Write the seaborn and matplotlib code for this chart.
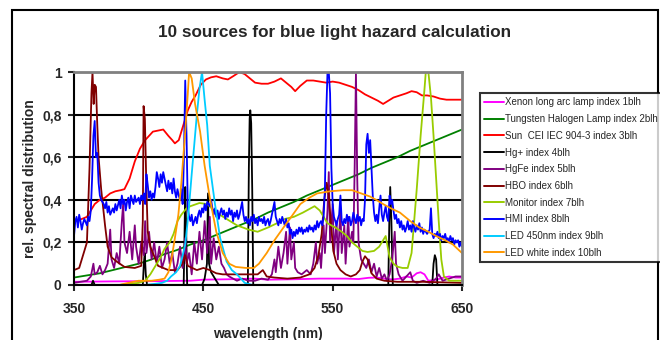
import pandas as pd
import seaborn as sns
import matplotlib.pyplot as plt
from matplotlib.patches import Rectangle

sns.set_style("white")
plt.rcParams['font.family'] = ['Liberation Sans', 'DejaVu Sans']

names = ['Xenon long arc lamp index 1blh', 'Tungsten Halogen Lamp index 2blh',
         'Sun  CEI IEC 904-3 index 3blh', 'Hg+ index 4blh', 'HgFe index 5blh',
         'HBO index 6blh', 'Monitor index 7blh', 'HMI index 8blh',
         'LED 450nm index 9blh', 'LED white index 10blh']
colors = ['#FF00FF', '#008000', '#FF0000', '#000000', '#800080',
          '#800000', '#99CC00', '#0000FF', '#00CCFF', '#FF9900']

xticks = [350, 450, 550, 650]
yticks = [0, 0.2, 0.4, 0.6, 0.8, 1]
ytick_labels = ['0', '0,2', '0,4', '0,6', '0,8', '1']

# (wavelength nm, relative value)
xenon = [(350, .015), (380, .017), (410, .018), (440, .02), (450, .025), (470, .027),
         (490, .03), (500, .025), (520, .027), (540, .03), (560, .03), (570, .028),
         (578, .034), (584, .035), (590, .03), (596, .026), (602, .03), (607, .04),
         (611, .035), (615, .055), (618, .06), (621, .05), (624, .02), (630, .025),
         (636, .035), (640, .04), (645, .035), (650, .035)]

tungsten = [(350, .035), (360, .045), (370, .055), (380, .07), (390, .085), (400, .10),
            (410, .12), (420, .145), (430, .165), (440, .19), (450, .21), (460, .235),
            (470, .26), (480, .285), (490, .31), (500, .34), (510, .365), (520, .39),
            (530, .42), (540, .445), (550, .47), (560, .495), (570, .52), (580, .55),
            (590, .575), (600, .60), (610, .63), (620, .655), (630, .68), (640, .705),
            (650, .73)]

sun = [(350, .30), (356, .31), (360, .32), (366, .38), (370, .40), (374, .41), (378, .43),
       (382, .44), (386, .445), (389, .45), (393, .50), (397, .58), (401, .64), (405, .68),
       (411, .72), (415, .725), (419, .73), (423, .70), (426, .68), (428, .665), (431, .68),
       (434, .74), (438, .82), (441, .86), (444, .89), (448, .94), (452, .965), (456, .975),
       (460, .98), (465, .97), (469, .965), (473, .98), (478, 1.0), (482, .99), (486, .97),
       (490, .95), (495, .945), (500, .945), (505, .955), (510, .97), (514, .95), (518, .93),
       (521, .91), (525, .935), (530, .96), (535, .96), (540, .955), (545, .95), (550, .955),
       (555, .95), (560, .94), (565, .93), (570, .915), (575, .895), (580, .88), (585, .865),
       (589, .85), (593, .865), (597, .88), (602, .89), (607, .90), (611, .91), (615, .905),
       (619, .89), (623, .89), (628, .885), (633, .875), (638, .87), (644, .87), (650, .87)]

hg = [(350, 0), (363.5, 0), (364.7, .02), (366, 0), (403.2, 0), (404, .1), (404.7, .15),
      (405.5, .05), (406.5, 0), (434.8, 0), (435.5, .25), (436, .46), (436.6, .3), (437.5, 0),
      (449, 0), (451, .03), (452.8, .1), (453.6, .43), (454.4, .1), (456, .06), (459, .03),
      (462, 0), (484.4, 0), (485.2, .55), (485.8, .78), (486.3, .82), (487, .76), (487.8, .45),
      (488.6, 0), (593, 0), (593.8, .3), (594.5, .46), (595.4, .3), (596.5, 0), (627, 0),
      (628, .1), (629, .14), (630, .12), (631, 0), (650, 0)]

hgfe = [(350, .01), (355, .015), (360, .02), (363, .04), (365, .1), (366, .05), (368, .06),
        (370, .09), (372, .05), (374, .07), (376, .1), (378, .26), (379, .12), (381, .08),
        (383, .15), (385, .1), (387, .3), (388, .38), (389, .2), (391, .15), (393, .25),
        (395, .12), (397, .28), (398, .18), (400, .1), (402, .2), (404, .14), (405, .3),
        (406, .15), (408, .25), (410, .12), (412, .2), (414, .1), (416, .18), (418, .08),
        (420, .12), (422, .2), (424, .1), (426, .15), (428, .06), (430, .1), (432, .18),
        (434, .08), (436, .22), (437, .1), (439, .15), (441, .05), (443, .2), (445, .1),
        (447, .25), (449, .12), (451, .3), (453, .15), (455, .32), (456, .1), (458, .22),
        (460, .12), (462, .18), (464, .1), (466, .08), (468, .05), (470, .04), (473, .03),
        (476, .02), (480, .03), (485, .02), (490, .02), (495, .03), (500, .025), (503, .05),
        (505, .12), (506, .06), (508, .18), (510, .08), (512, .15), (514, .25), (515, .1),
        (517, .27), (518, .12), (520, .2), (521, .08), (523, .06), (526, .05), (530, .07),
        (533, .05), (535, .1), (537, .2), (538, .1), (540, .15), (541, .08), (543, .28),
        (544, .15), (546, .35), (547, .53), (548, .2), (550, .38), (551, .15), (553, .3),
        (554, .12), (556, .35), (557, .15), (559, .28), (560, .1), (562, .32), (563, .18),
        (565, .25), (566, .2), (567, .55), (568, 1.0), (569, .5), (570, .2), (572, .12),
        (574, .1), (576, .08), (578, .12), (580, .06), (582, .1), (584, .04), (586, .08),
        (588, .03), (590, .05), (592, .02), (594, .05), (596, .12), (598, .25), (599, .1),
        (601, .05), (604, .02), (607, .04), (610, .06), (612, .02), (615, .01), (620, .02),
        (625, .01), (630, .03), (632, .05), (635, .02), (640, .03), (645, .04), (650, .04)]

hbo = [(350, .07), (354, .08), (357, .14), (360, .2), (362, .55), (363.5, .9), (364.3, 1.0),
       (365.2, .85), (366, .94), (367, .93), (368, .75), (369, .6), (371, .45), (374, .28),
       (376, .18), (379, .13), (383, .11), (389, .085), (397, .08), (402, .09), (403.2, .3),
       (403.8, .84), (404.8, .78), (406, .45), (407, .25), (409, .18), (411, .15), (415, .09),
       (423, .07), (430, .07), (434, .1), (436, .14), (438, .09), (445, .07), (450, .08),
       (455, .07), (460, .055), (465, .05), (475, .05), (485, .05), (492, .05), (496, .07),
       (499, .04), (505, .035), (515, .03), (525, .035), (532, .05), (536, .08), (539, .14),
       (541.5, .24), (543.5, .4), (545.4, .48), (547, .42), (548.5, .3), (550.5, .16),
       (553, .1), (556, .07), (560, .05), (564, .04), (568, .05), (571, .07), (573, .11),
       (575, .135), (577, .12), (580, .055), (584, .03), (590, .02), (600, .015),
       (620, .015), (650, .01)]

monitor = [(350, 0), (385, 0), (392, .005), (400, .01), (405, .02), (409, .05), (413, .09),
           (417, .13), (420, .17), (424, .2), (427, .24), (430, .3), (433, .33), (437, .36),
           (440, .37), (447, .385), (453, .38), (460, .34), (468, .31), (476, .28), (485, .26),
           (492, .25), (500, .27), (507, .29), (513, .31), (520, .32), (527, .34), (533, .36),
           (536, .37), (540, .35), (543, .32), (546, .29), (552, .27), (557, .25), (561, .23),
           (565, .2), (569, .18), (573, .16), (577, .155), (582, .16), (586, .18), (588, .2),
           (591, .23), (594, .13), (597, .1), (600, .086), (604, .08), (608, .08), (611, .15),
           (613, .3), (615, .45), (618, .7), (621, .92), (622, 1.0), (624, 1.0), (626, .88),
           (628, .7), (630, .5), (632, .3), (634, .12), (636, .04), (640, .02), (650, .02)]

hmi = [(350, .23), (351, .3), (352, .32), (353, .27), (354, .33), (355, .3), (356, .26),
       (357, .29), (358, .31), (360, .28), (361, .32), (362, .3), (363, .35), (364, .5),
       (365, .7), (366, .77), (367, .6), (368, .62), (369, .48), (370, .42), (371, .4),
       (373, .38), (374, .36), (375, .39), (376, .34), (377, .37), (378, .33), (380, .36),
       (381, .34), (382, .38), (383, .35), (385, .4), (386, .36), (387, .42), (388, .38),
       (389, .4), (390, .35), (391, .39), (392, .41), (393, .36), (394, .42), (396, .38),
       (397, .42), (398, .39), (400, .41), (401, .38), (402, .42), (403, .4), (404, .43),
       (405, .38), (406, .52), (407, .47), (408, .41), (409, .44), (410, .4), (411, .43),
       (412, .41), (413, .46), (414, .53), (415, .5), (416, .46), (417, .52), (418, .48),
       (419, .53), (420, .5), (421, .47), (422, .44), (423, .49), (424, .45), (425, .48),
       (426, .43), (427, .5), (428, .44), (429, .41), (430, .45), (431, .42), (432, .4),
       (433, .45), (434, .38), (435, .6), (436, .96), (437, .7), (438, .36), (439, .32),
       (440, .3), (441, .33), (442, .28), (443, .3), (444, .32), (445, .29), (446, .33),
       (447, .35), (448, .32), (449, .36), (450, .34), (451, .38), (452, .35), (453, .39),
       (455, .37), (456, .4), (457, .36), (458, .33), (459, .36), (460, .32), (461, .35),
       (462, .31), (463, .34), (464, .36), (465, .33), (466, .35), (467, .31), (468, .34),
       (469, .32), (470, .36), (471, .33), (472, .35), (473, .3), (474, .34), (475, .32),
       (476, .35), (477, .31), (478, .33), (479, .36), (480, .39), (481, .33), (482, .3),
       (483, .32), (484, .29), (485, .31), (486, .28), (487, .32), (488, .3), (489, .33),
       (490, .29), (491, .31), (492, .28), (493, .32), (494, .3), (495, .31), (496, .29),
       (497, .32), (498, .28), (499, .3), (500, .31), (501, .28), (502, .3), (503, .33),
       (504, .36), (505, .39), (506, .32), (507, .3), (508, .28), (509, .31), (510, .29),
       (511, .32), (512, .3), (513, .28), (514, .31), (515, .27), (516, .29), (517, .24),
       (518, .26), (519, .22), (520, .25), (521, .23), (522, .26), (523, .24), (524, .27),
       (525, .25), (526, .27), (527, .24), (528, .26), (529, .25), (530, .27), (531, .25),
       (532, .28), (533, .26), (534, .27), (535, .25), (536, .28), (537, .26), (538, .3),
       (539, .27), (540, .29), (541, .3), (542, .28), (543, .32), (544, .45), (545, .8),
       (546, 1.0), (547, 1.0), (548, .9), (549, .55), (550, .38), (551, .32), (552, .3),
       (553, .28), (554, .31), (555, .33), (556, .42), (557, .3), (558, .28), (559, .31),
       (560, .29), (561, .33), (562, .3), (563, .32), (564, .28), (565, .3), (566, .34),
       (567, .31), (568, .29), (569, .33), (570, .3), (571, .32), (572, .28), (573, .31),
       (574, .3), (575, .4), (576, .66), (577, .71), (578, .62), (579, .68), (580, .55),
       (581, .42), (582, .34), (583, .3), (584, .33), (585, .29), (586, .36), (587, .42),
       (588, .33), (589, .3), (590, .34), (591, .37), (592, .32), (593, .3), (594, .42),
       (595, .38), (596, .4), (597, .35), (598, .31), (599, .33), (600, .29), (601, .31),
       (602, .27), (603, .3), (604, .26), (605, .28), (606, .25), (607, .27), (608, .3),
       (609, .26), (610, .28), (611, .25), (612, .3), (613, .27), (614, .25), (615, .28),
       (616, .26), (617, .29), (618, .25), (619, .27), (620, .24), (621, .26), (622, .25),
       (623, .24), (624, .25), (625, .26), (626, .36), (627, .24), (628, .22), (629, .24),
       (630, .23), (631, .25), (632, .22), (633, .24), (634, .21), (635, .23), (636, .22),
       (637, .24), (638, .21), (639, .22), (640, .2), (641, .23), (642, .21), (643, .22),
       (644, .19), (645, .21), (646, .2), (647, .21), (648, .18), (649, .2), (650, .18)]

led450 = [(350, 0), (405, 0), (412, .005), (418, .01), (422, .02), (425, .04), (429, .06),
          (432, .09), (436, .19), (438.4, .33), (441, .52), (445, .8), (447, .92), (449, 1.0),
          (451, .87), (453, .75), (455, .56), (459, .38), (463, .22), (468, .11), (472, .07),
          (476, .05), (482, .01), (488, 0), (650, 0)]

ledwhite = [(350, 0), (385, 0), (392, .01), (400, .02), (410, .02), (416, .025), (420, .03),
            (423, .06), (425.6, .13), (428, .22), (430.7, .33), (433, .48), (436, .72),
            (438, .9), (439, 1.0), (441, .97), (443.6, .85), (447.5, .72), (451, .56),
            (455, .41), (460, .25), (465, .15), (470, .1), (475, .085), (483, .08), (489, .08),
            (493, .1), (499, .15), (505, .21), (512, .27), (518, .32), (525, .38), (532, .41),
            (538, .43), (548, .44), (558, .445), (565, .445), (572, .43), (579, .415),
            (585, .395), (589, .38), (595, .36), (602, .34), (610, .3), (617, .27), (624, .25),
            (630, .23), (637, .21), (643, .19), (650, .15)]

series = [xenon, tungsten, sun, hg, hgfe, hbo, monitor, hmi, led450, ledwhite]

df = pd.concat([pd.DataFrame(s, columns=['wl', 'val']).assign(source=n)
                for n, s in zip(names, series)], ignore_index=True)

fig = plt.figure(figsize=(6.6, 3.4), dpi=100)
ax = fig.add_axes([74 / 660, 55 / 340, 388 / 660, 213 / 340])

sns.lineplot(data=df, x='wl', y='val', hue='source', hue_order=names,
             palette=dict(zip(names, colors)), estimator=None, linewidth=1.3, ax=ax)

ax.set_xlim(350, 650)
ax.set_ylim(0, 1)
ax.set_xticks(xticks, [str(t) for t in xticks], fontweight='bold', fontsize=10)
ax.set_yticks(yticks, ytick_labels, fontweight='bold', fontsize=10)
ax.tick_params(axis='x', length=4, width=1.5, pad=8, direction='out', bottom=True)
ax.tick_params(axis='y', length=4, width=1.5, pad=5, direction='out', left=True)
ax.set_axisbelow(True)
ax.yaxis.grid(True, color='black', linewidth=1.5)
ax.xaxis.grid(False)
for side in ['left', 'bottom']:
    ax.spines[side].set_color('black')
    ax.spines[side].set_linewidth(1.5)
for side in ['top', 'right']:
    ax.spines[side].set_color('#808080')
    ax.spines[side].set_linewidth(2)
ax.set_xlabel('wavelength (nm)', fontweight='bold', fontsize=10, labelpad=8)
ax.set_ylabel('rel. spectral distribution', fontweight='bold', fontsize=10, labelpad=4)

handles, labels = ax.get_legend_handles_labels()
ax.get_legend().remove()
leg = fig.legend(handles, labels, loc='upper left', bbox_to_anchor=(480 / 660, 1 - 93 / 340),
                 fontsize=7, frameon=True, fancybox=False, edgecolor='black',
                 handlelength=2.0, handletextpad=0.1, borderpad=0.45, labelspacing=0.69,
                 borderaxespad=0)
leg.get_frame().set_linewidth(1.5)
for line in leg.get_lines():
    line.set_linewidth(1.4)

fig.text(335 / 660, 1 - 32 / 340, '10 sources for blue light hazard calculation',
         ha='center', va='center', fontsize=12.3, fontweight='bold')

fig.patches.append(Rectangle((12 / 660, -0.05), 646 / 660, 1 - 10 / 340 + 0.05,
                             transform=fig.transFigure, fill=False, edgecolor='black',
                             linewidth=1.5, clip_on=False))

fig.savefig('out.png', dpi=100)
